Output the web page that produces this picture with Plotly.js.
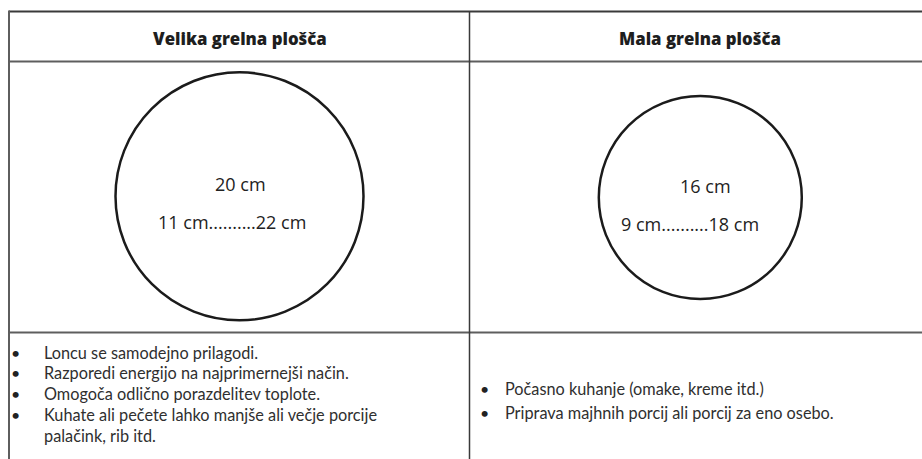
<!DOCTYPE html>
<html>
<head>
<meta charset="utf-8">
<script src="https://cdn.plot.ly/plotly-3.0.1.min.js"></script>
<style>
  html, body { margin: 0; padding: 0; background: #fff; }
  #chart { width: 922px; height: 459px; }
</style>
</head>
<body>
<div id="chart"></div>
<script>
// ---- data ----
const headers = ["Velika grelna plošča", "Mala grelna plošča"];
const diameters = [20, 16];          // nominal zone diameter, cm
const rangeMin = [11, 9];            // smallest pot, cm
const rangeMax = [22, 18];           // largest pot, cm
const bulletsLarge = [
  "Loncu se samodejno prilagodi.",
  "Razporedi energijo na najprimernejši način.",
  "Omogoča odlično porazdelitev toplote.",
  "Kuhate ali pečete lahko manjše ali večje porcije|palačink, rib itd."
];
const bulletsSmall = [
  "Počasno kuhanje (omake, kreme itd.)",
  "Priprava majhnih porcij ali porcij za eno osebo."
];

// ---- layout constants ----
const W = 922, H = 459;
const tableLeft = 9, tableTop = 11.5, headerBottom = 61.5, rowBottom = 332.5, colSplit = 469.5, tableRight = 930;
const colCenters = [239.5, 700.3];
const circleCY = [196.3, 197.5];
// linear scale from diameter (cm) to drawn radius (px)
const rScale = d => 11.5 + 5.625 * d;

const lineCol = "#5e5e5e";
const shapes = [];
// table grid
shapes.push({type: "line", x0: tableLeft, x1: tableRight, y0: tableTop, y1: tableTop, line: {color: "#3a3a3a", width: 2}});
shapes.push({type: "line", x0: tableLeft, x1: tableRight, y0: headerBottom, y1: headerBottom, line: {color: lineCol, width: 2}});
shapes.push({type: "line", x0: tableLeft, x1: tableRight, y0: rowBottom, y1: rowBottom, line: {color: lineCol, width: 2}});
shapes.push({type: "line", x0: tableLeft, x1: tableLeft, y0: tableTop - 1, y1: H + 5, line: {color: lineCol, width: 2}});
shapes.push({type: "line", x0: colSplit, x1: colSplit, y0: tableTop, y1: H + 5, line: {color: "#3a3a3a", width: 1.5}});

// circles
diameters.forEach((d, i) => {
  const r = rScale(d);
  shapes.push({type: "circle", xref: "x", yref: "y",
    x0: colCenters[i] - r, x1: colCenters[i] + r,
    y0: circleCY[i] - r, y1: circleCY[i] + r,
    line: {color: "#1b1b1b", width: 2.5}, fillcolor: "rgba(0,0,0,0)"});
});

const annotations = [];
const bodyFont = {family: "Lato, 'Open Sans', sans-serif", size: 16.3, color: "#2f2f2f"};
const cmFont = {family: "'Open Sans', sans-serif", size: 18, color: "#222"};

// headers
headers.forEach((h, i) => {
  annotations.push({x: colCenters[i], y: 38, text: h, showarrow: false,
    xanchor: "center", yanchor: "middle",
    font: {family: "'Open Sans', sans-serif", size: 16.8, color: "#1e1e1e", weight: 800}});
});

// circle labels
const labelOffsetX = [[0.5, -7.5], [5, -10]];
diameters.forEach((d, i) => {
  annotations.push({x: colCenters[i] + labelOffsetX[i][0], y: circleCY[i] - 12, text: d + " cm",
    showarrow: false, xanchor: "center", yanchor: "middle", font: cmFont});
  annotations.push({x: colCenters[i] + labelOffsetX[i][1], y: circleCY[i] + 26,
    text: rangeMin[i] + " cm.........." + rangeMax[i] + " cm",
    showarrow: false, xanchor: "center", yanchor: "middle", font: cmFont});
});

// bullet lists
function addBullets(list, xBullet, xText, yStart, step) {
  let row = 0;
  list.forEach(item => {
    const parts = item.split("|");
    annotations.push({x: xBullet, y: yStart + row * step, text: "•", showarrow: false,
      xanchor: "center", yanchor: "middle", font: {family: "Lato, sans-serif", size: 16, color: "#222"}});
    parts.forEach(p => {
      annotations.push({x: xText, y: yStart + row * step, text: p, showarrow: false,
        xanchor: "left", yanchor: "middle", font: bodyFont});
      row++;
    });
  });
}
addBullets(bulletsLarge, 15, 42, 352, 20.8);
addBullets(bulletsSmall, 484, 503, 388.5, 23.5);

const layout = {
  width: W, height: H,
  margin: {l: 0, r: 0, t: 0, b: 0},
  paper_bgcolor: "#fff", plot_bgcolor: "#fff",
  xaxis: {range: [0, W], visible: false, fixedrange: true},
  yaxis: {range: [H, 0], visible: false, fixedrange: true},
  showlegend: false,
  shapes: shapes,
  annotations: annotations
};

Plotly.newPlot("chart", [{x: [], y: [], type: "scatter", mode: "markers", hoverinfo: "skip"}], layout,
  {displayModeBar: false, staticPlot: true});
</script>
</body>
</html>
